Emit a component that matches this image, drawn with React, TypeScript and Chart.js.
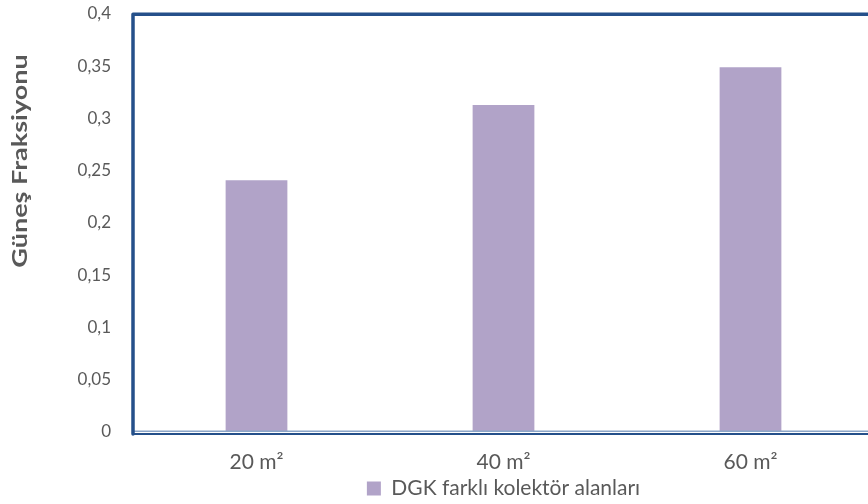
import React, { useEffect, useRef } from "react";
import { Chart, registerables } from "chart.js";

Chart.register(...registerables);

const categories = ["20 m²", "40 m²", "60 m²"];
const seriesName = "DGK farklı kolektör alanları";
const fractionValues = [0.241, 0.313, 0.349];
const axisTitle = "Güneş Fraksiyonu";
const yMin = 0;
const yMax = 0.4;
const yStep = 0.05;

const FONT = "Lato, 'Open Sans', sans-serif";
const TEXT = "#595959";
const BAR = "#B1A3C8";
const DARK_BLUE = "#25508A";
const LIGHT_BLUE = "#8CA6C8";

const formatTick = (v: number) => String(Number(v.toFixed(2))).replace(".", ",");

// Frame lines around the plot and the rotated axis title
const framePlugin = {
  id: "frame",
  afterDatasetsDraw(chart: any) {
    const { ctx, chartArea } = chart;
    const { left, top, bottom } = chartArea;
    const w = chart.width;
    ctx.save();
    ctx.strokeStyle = LIGHT_BLUE;
    ctx.lineWidth = 1.5;
    ctx.beginPath();
    ctx.moveTo(left, bottom - 0.8);
    ctx.lineTo(w, bottom - 0.8);
    ctx.stroke();
    ctx.strokeStyle = DARK_BLUE;
    ctx.lineWidth = 2;
    ctx.beginPath();
    ctx.moveTo(left - 1, bottom + 2);
    ctx.lineTo(w, bottom + 2);
    ctx.stroke();
    ctx.lineWidth = 3.5;
    ctx.lineCap = "round";
    ctx.lineJoin = "round";
    ctx.beginPath();
    ctx.moveTo(left, bottom + 2);
    ctx.lineTo(left, top + 0.3);
    ctx.lineTo(w + 5, top + 0.3);
    ctx.stroke();
    ctx.restore();
  },
  afterDraw(chart: any) {
    const { ctx } = chart;
    ctx.save();
    ctx.translate(21, 161);
    ctx.rotate(-Math.PI / 2);
    ctx.scale(1.35, 1);
    ctx.font = `bold 20px ${FONT}`;
    ctx.fillStyle = TEXT;
    ctx.textAlign = "center";
    ctx.textBaseline = "middle";
    ctx.fillText(axisTitle, 0, 0);
    ctx.restore();
  },
};

export default function App() {
  const ref = useRef<HTMLCanvasElement | null>(null);

  useEffect(() => {
    if (!ref.current) return;
    const chart = new Chart(ref.current, {
      type: "bar",
      data: {
        labels: categories,
        datasets: [
          {
            label: seriesName,
            data: fractionValues,
            backgroundColor: BAR,
            borderWidth: 0,
            categoryPercentage: 1,
            barPercentage: 0.25,
          },
        ],
      },
      options: {
        animation: false,
        responsive: false,
        devicePixelRatio: 1,
        layout: { padding: { left: 0, top: 14, right: 26, bottom: -5 } },
        plugins: {
          tooltip: { enabled: false },
          legend: {
            position: "bottom",
            fullSize: false,
            labels: {
              color: TEXT,
              font: { family: FONT, size: 21 },
              boxWidth: 14,
              boxHeight: 14,
              padding: 2,
            },
          },
        },
        scales: {
          x: {
            grid: { display: false, drawTicks: false },
            border: { display: false },
            ticks: {
              color: TEXT,
              font: { family: FONT, size: 21 },
              padding: 18,
            },
            afterFit: (s: any) => {
              s.height = 44;
            },
          },
          y: {
            min: yMin,
            max: yMax,
            grid: { display: false, drawTicks: true, tickLength: 22 },
            border: { display: false },
            ticks: {
              stepSize: yStep,
              color: TEXT,
              font: { family: FONT, size: 17 },
              padding: 0,
              callback: (v: any) => formatTick(Number(v)),
            },
            afterFit: (s: any) => {
              s.width = 133;
            },
          },
        },
      },
      plugins: [framePlugin],
    });
    return () => chart.destroy();
  }, []);

  return (
    <div
      style={{
        position: "fixed",
        left: 0,
        top: 0,
        width: 868,
        height: 504,
        overflow: "hidden",
        background: "#fff",
      }}
    >
      <canvas ref={ref} width={900} height={504} style={{ display: "block" }} />
    </div>
  );
}
